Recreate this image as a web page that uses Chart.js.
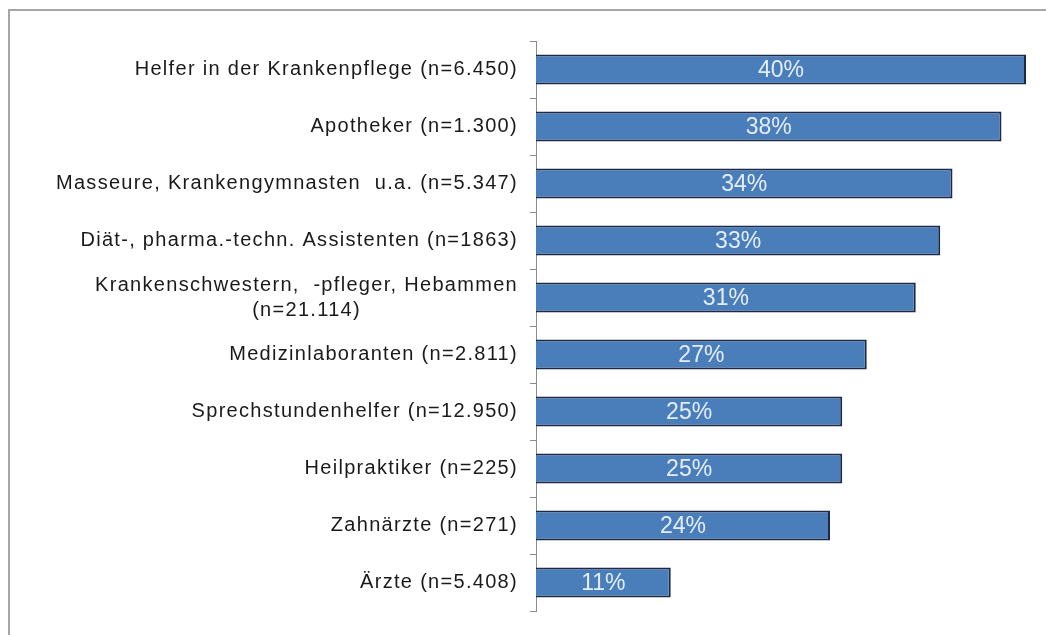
<!DOCTYPE html>
<html>
<head>
<meta charset="utf-8">
<script src="https://cdn.jsdelivr.net/npm/chart.js@4"></script>
<style>
body { margin: 0; background: #fff; overflow: hidden; }
#wrap { position: relative; width: 1046px; height: 635px; }
#frame { position: absolute; left: 8px; top: 9px; width: 1100px; height: 700px; border: 2px solid #a6a6a6; }
#chart { position: absolute; left: 0; top: 0; }
</style>
</head>
<body>
<div id="wrap">
<div id="frame"></div>
<canvas id="chart" width="1046" height="635"></canvas>
</div>
<script>
// categories (multi-line label kept as array of lines)
const categories = [
    ["Helfer in der Krankenpflege (n=6.450)"],
    ["Apotheker (n=1.300)"],
    ["Masseure, Krankengymnasten  u.a. (n=5.347)"],
    ["Diät-, pharma.-techn. Assistenten (n=1863)"],
    ["Krankenschwestern,  -pfleger, Hebammen", "(n=21.114)"],
    ["Medizinlaboranten (n=2.811)"],
    ["Sprechstundenhelfer (n=12.950)"],
    ["Heilpraktiker (n=225)"],
    ["Zahnärzte (n=271)"],
    ["Ärzte (n=5.408)"]
];

const percentages = [40, 38, 34, 33, 31, 27, 25, 25, 24, 11];

const labelFont = "20px 'Liberation Sans', Arial, sans-serif";
const valueFont = "23px 'Liberation Sans', Arial, sans-serif";


// draws the category names right-aligned, multi-line blocks centered
const categoryLabels = {
    id: "categoryLabels",
    afterDraw(chart) {
        const ctx = chart.ctx;
        const yScale = chart.scales.y;
        ctx.save();
        ctx.font = labelFont;
        ctx.letterSpacing = "1.3px";
        ctx.fillStyle = "#1a1a1a";
        ctx.textBaseline = "middle";
        ctx.textAlign = "center";
        const right = yScale.right - 18;
        categories.forEach((lines, i) => {
            const y = yScale.getPixelForValue(i);
            let maxW = 0;
            lines.forEach(l => { maxW = Math.max(maxW, ctx.measureText(l).width); });
            const cx = right - maxW / 2;
            const lh = 25;
            const top = y - (lines.length - 1) * lh / 2;
            lines.forEach((l, j) => {
                ctx.fillText(l, cx, top + j * lh);
            });
        });
        ctx.restore();
    }
};

// percentage text inside each bar
const valueLabels = {
    id: "valueLabels",
    afterDatasetsDraw(chart) {
        const ctx = chart.ctx;
        const meta = chart.getDatasetMeta(0);
        ctx.save();
        ctx.font = valueFont;
        ctx.fillStyle = "#e4edf8";
        ctx.textAlign = "center";
        ctx.textBaseline = "middle";
        meta.data.forEach((bar, i) => {
            const cx = (bar.x + bar.base) / 2;
            ctx.fillText(percentages[i] + "%", cx, bar.y + 1);
        });
        ctx.restore();
    }
};

new Chart(
document.getElementById("chart"),
{
type: "bar",

data: {
labels: categories.map(c => c.join(" ")),
datasets: [{
data: percentages,
backgroundColor: "#4a7ebb",
borderColor: "#1c2a48",
borderWidth: 2,
barPercentage: 0.53,
categoryPercentage: 1
}]
},

options: {
indexAxis: "y",
responsive: false,
animation: false,
layout: {
padding: { left: 0, top: 41, bottom: 24, right: 20 }
},
plugins: {
legend: { display: false },
tooltip: { enabled: false }
},
scales: {
x: {
display: false,
min: 0,
max: 40
},
y: {
afterFit(scale) { scale.width = 536; },
ticks: { display: false },
grid: {
display: true,
offset: true,
drawOnChartArea: false,
drawTicks: true,
tickLength: 6,
color: "#8c8c8c"
},
border: {
display: true,
color: "#8c8c8c",
width: 1
}
}
}
},

plugins: [categoryLabels, valueLabels]

});
</script>
</body>
</html>
